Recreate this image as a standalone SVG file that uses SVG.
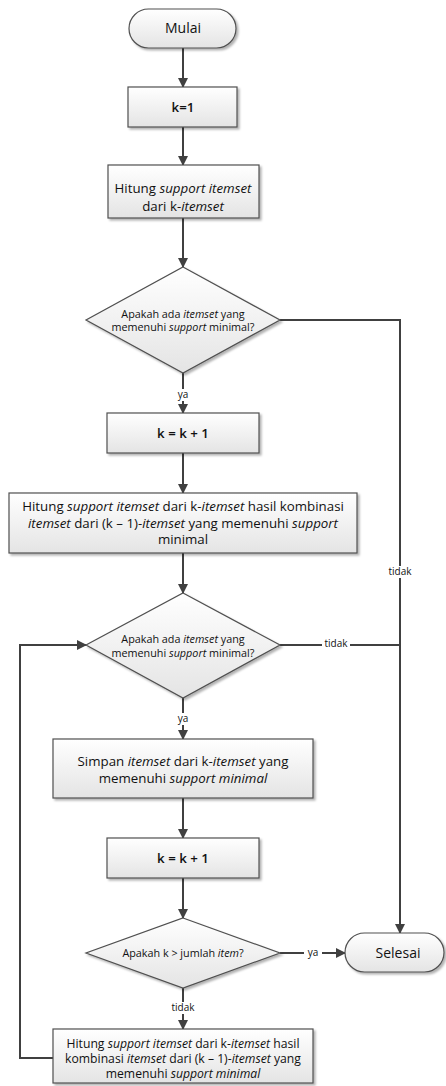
<svg xmlns="http://www.w3.org/2000/svg" width="446" height="1086" viewBox="0 0 446 1086">
<defs>
<linearGradient id="g" x1="0" y1="0" x2="0" y2="1"><stop offset="0" stop-color="#ffffff"/><stop offset="1" stop-color="#e4e4e4"/></linearGradient>
<filter id="sh" x="-10%" y="-10%" width="130%" height="140%"><feDropShadow dx="2" dy="2" stdDeviation="1" flood-color="#000" flood-opacity="0.3"/></filter>
<marker id="ah" markerWidth="10" markerHeight="10" refX="9" refY="5" orient="auto" markerUnits="userSpaceOnUse"><path d="M0,0 L10,5 L0,10 Z" fill="#404040"/></marker>
</defs>
<style>
.n{fill:url(#g);stroke:#505050;stroke-width:1.2;filter:url(#sh)}
.t{font-family:"Open Sans","Liberation Sans",sans-serif;font-size:13.3px;fill:#111;text-anchor:middle}
.s{font-size:10.8px}
.m{font-size:12.2px}
.l{font-family:"Open Sans","Liberation Sans",sans-serif;font-size:10px;fill:#111;text-anchor:middle}
.b{font-size:14px}
.c{fill:none;stroke:#404040;stroke-width:2}
.a{marker-end:url(#ah)}
</style>
<rect width="446" height="1086" fill="#fff"/>
<g id="connectors">
<line class="c a" x1="183" y1="48" x2="183" y2="87"/>
<line class="c a" x1="183" y1="127" x2="183" y2="165"/>
<line class="c a" x1="183" y1="218" x2="183" y2="267"/>
<line class="c a" x1="183" y1="373" x2="183" y2="413"/>
<line class="c a" x1="183" y1="453" x2="183" y2="493"/>
<line class="c a" x1="183" y1="553" x2="183" y2="593"/>
<line class="c a" x1="183" y1="698" x2="183" y2="739"/>
<line class="c a" x1="183" y1="798" x2="183" y2="838"/>
<line class="c a" x1="183" y1="878" x2="183" y2="918"/>
<line class="c a" x1="183" y1="988" x2="183" y2="1029"/>
<polyline class="c a" points="280,320 400,320 400,933"/>
<line class="c" x1="280" y1="645" x2="400" y2="645"/>
<line class="c a" x1="280" y1="953" x2="345" y2="953"/>
<polyline class="c a" points="53,1058 20,1058 20,645 86,645"/>
<rect x="174" y="389" width="18" height="12" fill="#fff"/>
<text class="l" x="183" y="398">ya</text>
<rect x="385" y="566" width="30" height="12" fill="#fff"/>
<text class="l" x="400" y="575">tidak</text>
<rect x="322" y="639" width="28" height="10" fill="#fff"/>
<text class="l" x="336" y="647">tidak</text>
<rect x="174" y="713" width="18" height="12" fill="#fff"/>
<text class="l" x="183" y="722">ya</text>
<rect x="304" y="948" width="18" height="10" fill="#fff"/>
<text class="l" x="313" y="956">ya</text>
<rect x="168" y="1002" width="30" height="12" fill="#fff"/>
<text class="l" x="183" y="1011">tidak</text>
</g>
<g id="mulai"><rect class="n" x="129" y="9" width="107" height="39" rx="19.5"/><text class="t b" x="183" y="33">Mulai</text></g>
<g id="k1"><rect class="n" x="128" y="87" width="109" height="40"/><text class="t" x="183" y="112" font-weight="600">k=1</text></g>
<g id="hitung1"><rect class="n" x="108" y="165" width="151" height="53"/><text class="t" x="183" y="193">Hitung <tspan font-style="italic">support itemset</tspan></text><text class="t" x="183" y="211">dari k-<tspan font-style="italic">itemset</tspan></text></g>
<g id="cek1"><polygon class="n" points="183,267 280,320 183,373 86,320"/><text class="t s" x="183" y="318">Apakah ada <tspan font-style="italic">itemset</tspan> yang</text><text class="t s" x="183" y="331">memenuhi <tspan font-style="italic">support</tspan> minimal?</text></g>
<g id="kinc1"><rect class="n" x="107" y="413" width="152" height="40"/><text class="t" x="183" y="438" font-weight="600">k = k + 1</text></g>
<g id="hitung2"><rect class="n" x="9" y="493" width="348" height="60"/><text class="t" x="183" y="511">Hitung <tspan font-style="italic">support itemset</tspan> dari k-<tspan font-style="italic">itemset</tspan> hasil kombinasi</text><text class="t" x="183" y="528"><tspan font-style="italic">itemset</tspan> dari (k – 1)-<tspan font-style="italic">itemset</tspan> yang memenuhi <tspan font-style="italic">support</tspan></text><text class="t" x="183" y="544">minimal</text></g>
<g id="cek2"><polygon class="n" points="183,593 280,645 183,698 86,645"/><text class="t s" x="183" y="643">Apakah ada <tspan font-style="italic">itemset</tspan> yang</text><text class="t s" x="183" y="657">memenuhi <tspan font-style="italic">support</tspan> minimal?</text></g>
<g id="simpan"><rect class="n" x="53" y="739" width="260" height="59"/><text class="t" x="183" y="766">Simpan <tspan font-style="italic">itemset</tspan> dari k-<tspan font-style="italic">itemset</tspan> yang</text><text class="t" x="183" y="783">memenuhi <tspan font-style="italic">support minimal</tspan></text></g>
<g id="kinc2"><rect class="n" x="107" y="838" width="152" height="40"/><text class="t" x="183" y="863" font-weight="600">k = k + 1</text></g>
<g id="cek3"><polygon class="n" points="183,918 280,953 183,988 86,953"/><text class="t s" x="183" y="957">Apakah k &gt; jumlah <tspan font-style="italic">item</tspan>?</text></g>
<g id="selesai"><rect class="n" x="345" y="933" width="99" height="39" rx="19.5"/><text class="t b" x="398" y="958">Selesai</text></g>
<g id="hitung3"><rect class="n" x="53" y="1029" width="260" height="54"/><text class="t m" x="183" y="1048">Hitung <tspan font-style="italic">support itemset</tspan> dari k-<tspan font-style="italic">itemset</tspan> hasil</text><text class="t m" x="183" y="1063">kombinasi <tspan font-style="italic">itemset</tspan> dari (k – 1)-<tspan font-style="italic">itemset</tspan> yang</text><text class="t m" x="183" y="1078">memenuhi <tspan font-style="italic">support minimal</tspan></text></g>
</svg>
